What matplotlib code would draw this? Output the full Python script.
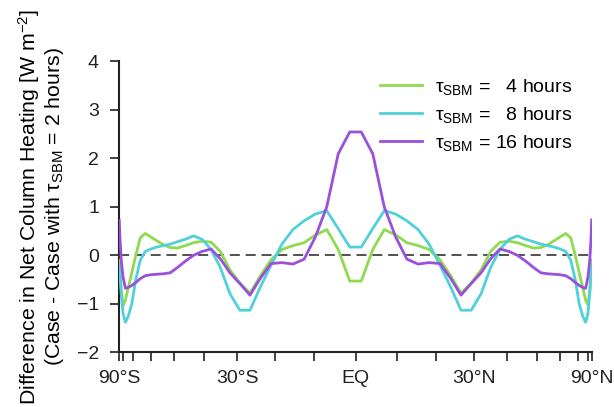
import numpy as np
import matplotlib
matplotlib.use("Agg")
import matplotlib.pyplot as plt

# Gaussian latitudes (southern half), northern half mirrors them
lat_sh = [-87.86, -85.10, -82.31, -79.53, -76.74, -73.95, -71.16, -68.37,
          -65.58, -62.79, -60.00, -57.21, -54.42, -51.63, -48.84, -46.05,
          -43.26, -40.47, -37.67, -34.88, -32.09, -29.30, -26.51, -23.72,
          -20.93, -18.14, -15.35, -12.56, -9.77, -6.98, -4.19, -1.40]
lat = lat_sh + [-v for v in reversed(lat_sh)]

tau4 = [-0.10, -0.30, -0.70, -1.04, -0.92, -0.66, -0.36, 0.00,
        0.36, 0.45, 0.38, 0.30, 0.22, 0.16, 0.15, 0.20,
        0.26, 0.29, 0.27, 0.08, -0.30, -0.57, -0.78, -0.42,
        -0.09, 0.12, 0.20, 0.26, 0.42, 0.53, 0.12, -0.53,
        -0.53, 0.12, 0.53, 0.42, 0.26, 0.20, 0.12, -0.09,
        -0.42, -0.78, -0.57, -0.30, 0.08, 0.27, 0.29, 0.26,
        0.20, 0.15, 0.16, 0.22, 0.30, 0.38, 0.45, 0.36,
        0.00, -0.36, -0.66, -0.92, -1.02, -0.70, -0.30, -0.10]

tau8 = [-0.20, -0.40, -0.80, -1.20, -1.38, -1.25, -1.00, -0.50,
        -0.10, 0.08, 0.13, 0.17, 0.20, 0.23, 0.28, 0.33,
        0.40, 0.33, 0.12, -0.25, -0.79, -1.13, -1.13, -0.65,
        -0.20, 0.23, 0.53, 0.71, 0.85, 0.92, 0.55, 0.17,
        0.17, 0.55, 0.92, 0.85, 0.71, 0.53, 0.23, -0.20,
        -0.65, -1.13, -1.13, -0.79, -0.25, 0.12, 0.33, 0.40,
        0.33, 0.28, 0.23, 0.20, 0.17, 0.13, 0.08, -0.10,
        -0.50, -1.00, -1.25, -1.38, -1.20, -0.80, -0.40, -0.20]

tau16 = [0.72, 0.35, -0.10, -0.45, -0.68, -0.66, -0.62, -0.56,
         -0.48, -0.42, -0.40, -0.39, -0.38, -0.36, -0.25, -0.12,
         0.00, 0.08, 0.13, -0.07, -0.36, -0.58, -0.82, -0.47,
         -0.17, -0.15, -0.18, -0.08, 0.38, 1.00, 2.09, 2.54,
         2.54, 2.09, 1.00, 0.38, -0.08, -0.18, -0.15, -0.17,
         -0.47, -0.82, -0.58, -0.36, -0.07, 0.13, 0.08, 0.00,
         -0.12, -0.25, -0.36, -0.38, -0.39, -0.40, -0.42, -0.48,
         -0.56, -0.62, -0.66, -0.68, -0.45, -0.10, 0.35, 0.73]

labels = [r"$\tau_{\mathrm{SBM}}$ = " + "\u2007" + "4 hours",
          r"$\tau_{\mathrm{SBM}}$ = " + "\u2007" + "8 hours",
          r"$\tau_{\mathrm{SBM}}$ = 16 hours"]
colors = ["#8fda4f", "#4fd0db", "#9b4fdd"]

xticks = [-90, -30, 0, 30, 90]
xticklabels = ["90°S", "30°S", "EQ", "30°N", "90°N"]

FONT = "Liberation Sans"


def fwd(x):
    return np.sin(np.deg2rad(np.clip(x, -90, 90)))


def inv(s):
    return np.rad2deg(np.arcsin(np.clip(s, -1, 1)))


def main():
    plt.rcParams["font.family"] = [FONT, "DejaVu Sans"]
    plt.rcParams["mathtext.fontset"] = "custom"
    plt.rcParams["mathtext.rm"] = FONT
    plt.rcParams["mathtext.it"] = FONT
    plt.rcParams["mathtext.bf"] = FONT
    plt.rcParams["font.size"] = 14

    fig = plt.figure(figsize=(6.14, 4.07), dpi=100)
    ax = fig.add_axes([0.194, 0.134, 0.770, 0.716])
    ax.set_xscale("function", functions=(fwd, inv))

    ax.axhline(0, color="#333333", lw=1.2, ls=(0, (6, 3.5)), zorder=1)
    for ys, lab, c in zip([tau4, tau8, tau16], labels, colors):
        ax.plot(lat, ys, color=c, lw=2.0, label=lab, zorder=3)

    ax.set_xlim(-90, 90)
    ax.set_ylim(-2, 4)
    ax.set_xticks(xticks)
    ax.set_xticklabels(xticklabels)
    ax.set_xticks(np.arange(-80, 90, 10), minor=True)
    ax.set_yticks(range(-2, 5))
    ax.set_yticklabels([str(v).replace("-", "\u2212") for v in range(-2, 5)])
    ax.tick_params(which="both", direction="out", length=6.5, width=1.2,
                   colors="#222222", labelsize=14)
    ax.tick_params(axis="y", pad=8)
    ax.tick_params(axis="x", pad=6)

    for s in ["top", "right"]:
        ax.spines[s].set_visible(False)
    for s in ["left", "bottom"]:
        ax.spines[s].set_linewidth(1.5)
        ax.spines[s].set_color("#222222")

    ax.set_ylabel("Difference in Net Column Heating [W m$^{-2}$]\n"
                  r"(Case - Case with $\tau_{\mathrm{SBM}}$ = 2 hours)",
                  fontsize=15.3, linespacing=1.05, labelpad=8)

    ax.legend(loc="upper left", bbox_to_anchor=(0.552, 0.945), frameon=False,
              borderpad=0, borderaxespad=0,
              handlelength=2.15, handletextpad=0.65, labelspacing=0.4,
              fontsize=14)

    fig.savefig("out.png", dpi=100)


if __name__ == "__main__":
    main()
